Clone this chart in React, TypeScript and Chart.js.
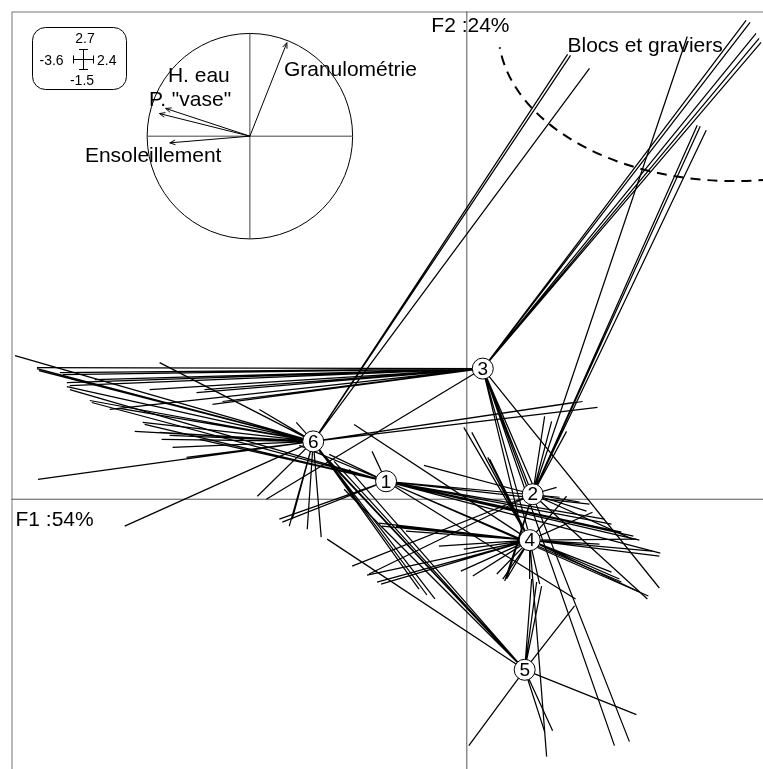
import React, { useEffect, useRef } from 'react';
import { Chart, registerables } from 'chart.js';

Chart.register(...registerables);

// ---- Data (F1 / F2 scores) ----
const GROUP_LABELS = ['1', '2', '3', '4', '5', '6'];
const CENTRE_X = [-0.81, 0.66, 0.16, 0.63, 0.58, -1.54];
const CENTRE_Y = [0.18, 0.05, 1.31, -0.41, -1.71, 0.58];

const ENDS_1: [number, number][] = [
  [-3.98, 1.10], [-3.76, 0.97], [-3.23, 0.75], [-2.68, 0.60], [-1.68, 0.54], [-1.38, 0.45],
  [-0.95, 0.48], [-1.88, -0.20], [-1.85, -0.23], [1.67, -0.37], [1.73, -0.41], [1.94, -0.54],
  [1.45, -0.25], [1.55, -0.33], [1.48, -0.80], [1.55, -0.83], [1.82, -0.97], [1.23, -0.05],
  [0.93, 0.02], [1.38, -0.20], [1.09, -1.00],
];
const ENDS_2: [number, number][] = [
  [2.31, 3.75], [2.34, 3.74], [2.40, 3.70], [2.21, 4.64], [0.78, 0.83], [0.85, 0.78],
  [1.00, 0.68], [-0.43, 0.34], [-0.28, 0.30], [0.90, 0.12], [1.13, -0.03], [1.20, -0.12],
  [1.66, -0.40], [1.81, -1.00], [0.38, -0.82], [0.40, -0.80], [-1.15, -0.67], [-0.98, -0.75],
];
const ENDS_3: [number, number][] = [
  [2.80, 4.80], [2.84, 4.78], [2.90, 4.67], [2.93, 4.62], [2.95, 4.58], [-4.31, 1.32],
  [-4.08, 1.27], [-4.05, 1.25], [-4.01, 1.17], [-3.98, 1.14], [-3.73, 1.20], [-3.18, 1.10],
  [-3.58, 0.90], [-2.71, 1.07], [-2.63, 1.10], [-2.55, 0.95], [-2.45, 0.98], [-2.01, 0.00],
  [1.48, -2.47], [1.63, -2.43], [1.93, -0.89], [0.60, 0.13], [0.68, 0.10], [0.61, -0.30],
  [0.56, -0.35],
];
const ENDS_4: [number, number][] = [
  [-0.03, 0.72], [0.05, 0.67], [0.21, 0.42], [0.23, 0.40], [-1.13, 0.75], [-0.28, -0.47],
  [-0.06, -0.72], [-0.03, -0.50], [0.06, -0.53], [0.06, -0.77], [0.30, -0.75], [0.36, -0.80],
  [0.41, -0.78], [-0.85, -0.27], [-0.71, -0.27], [-0.61, -0.32], [-1.00, -0.76], [-0.90, -0.83],
  [-0.86, -0.85], [-0.88, -0.24], [1.70, -0.40], [1.86, -0.52], [1.93, -0.57], [1.45, -0.73],
  [1.53, -0.80], [1.73, -0.93], [1.00, 0.03], [1.26, -0.13], [1.33, -0.45], [0.80, -2.58],
  [0.63, -0.80], [0.73, -0.85],
];
const ENDS_5: [number, number][] = [
  [0.65, -0.80], [0.70, -0.83], [0.75, -0.87], [1.08, -1.07], [1.70, -2.16], [0.02, -2.47],
  [0.86, -2.32], [0.78, -2.33], [-1.48, 0.48], [-1.43, 0.44], [-1.33, 0.38], [-1.18, 0.30],
  [-1.40, -0.40], [-1.23, 0.10],
];
const ENDS_6: [number, number][] = [
  [1.01, 4.46], [1.04, 4.45], [1.23, 4.32], [1.06, 0.97], [1.16, 0.98], [1.31, 0.92],
  [-4.53, 1.44], [-4.31, 1.31], [-4.29, 1.29], [-4.01, 1.13], [-3.78, 0.99], [-3.48, 0.91],
  [-3.25, 0.77], [-3.08, 1.37], [-3.33, 0.68], [-3.08, 0.67], [-3.06, 0.60], [-2.98, 0.64],
  [-2.95, 0.52], [-2.81, 0.42], [-2.08, 0.90], [-1.71, 0.77], [-4.30, 0.20], [-3.43, -0.27],
  [-2.10, 0.03], [-1.75, -0.20], [-1.78, -0.27], [-1.60, -0.30], [-1.46, -0.38], [-0.48, -0.90],
  [-0.40, -0.96], [-0.32, -1.00],
];
const GROUP_ENDS = [ENDS_1, ENDS_2, ENDS_3, ENDS_4, ENDS_5, ENDS_6];

// correlation circle (variables)
const VARIABLES = ['Granulométrie', 'H. eau', 'P. "vase"', 'Ensoleillement'];
const CORR_X = [0.36, -0.82, -0.88, -0.78];
const CORR_Y = [0.91, 0.27, 0.22, -0.065];

const AXIS_LABELS = ['F1 :54%', 'F2 :24%'];
const SCALE_BOX = ['2.7', '-3.6', '2.4', '-1.5'];
const ZONE_LABEL = 'Blocs et graviers';

const X_MIN = -4.565;
const X_MAX = 3.225;
const Y_MIN = -2.9;
const Y_MAX = 4.89;

const FONT = '"Liberation Sans", Arial, Helvetica, sans-serif';

function arrow(ctx: CanvasRenderingContext2D, x0: number, y0: number, x1: number, y1: number) {
  ctx.beginPath();
  ctx.moveTo(x0, y0);
  ctx.lineTo(x1, y1);
  ctx.stroke();
  const ang = Math.atan2(y1 - y0, x1 - x0);
  const len = 6;
  const spread = 0.4;
  ctx.beginPath();
  ctx.moveTo(x1 - len * Math.cos(ang - spread), y1 - len * Math.sin(ang - spread));
  ctx.lineTo(x1, y1);
  ctx.lineTo(x1 - len * Math.cos(ang + spread), y1 - len * Math.sin(ang + spread));
  ctx.stroke();
}

const decorPlugin = {
  id: 'decor',
  beforeDatasetsDraw(chart: any) {
    const ctx: CanvasRenderingContext2D = chart.ctx;
    const xs = chart.scales.x;
    const ys = chart.scales.y;
    const a = chart.chartArea;
    ctx.save();
    // frame
    ctx.strokeStyle = '#777';
    ctx.lineWidth = 1;
    ctx.strokeRect(a.left + 0.5, a.top + 0.5, a.right - a.left, a.bottom - a.top);
    // axes
    const ox = xs.getPixelForValue(0);
    const oy = ys.getPixelForValue(0);
    ctx.strokeStyle = '#555';
    ctx.beginPath();
    ctx.moveTo(ox, a.top);
    ctx.lineTo(ox, a.bottom);
    ctx.moveTo(a.left, oy);
    ctx.lineTo(a.right, oy);
    ctx.stroke();

    ctx.fillStyle = '#000';
    ctx.font = `21px ${FONT}`;
    ctx.textAlign = 'left';
    ctx.textBaseline = 'alphabetic';
    ctx.fillText(AXIS_LABELS[1], ox - 35.5, 31.5);
    ctx.fillText(AXIS_LABELS[0], a.left + 4, oy + 27);

    // zone: dashed arc
    const ecx = xs.getPixelForValue(2.675);
    const ecy = ys.getPixelForValue(4.7);
    const erx = xs.getPixelForValue(2.675 + 2.36) - ecx;
    const ery = ys.getPixelForValue(4.7 - 1.51) - ecy;
    ctx.strokeStyle = '#000';
    ctx.lineWidth = 2;
    ctx.setLineDash([10, 7]);
    ctx.beginPath();
    ctx.ellipse(ecx, ecy, erx, ery, 0, 1.35, 3.03);
    ctx.stroke();
    ctx.setLineDash([]);
    ctx.fillText(ZONE_LABEL, 567.5, 52);

    // correlation circle
    const cx = xs.getPixelForValue(-2.175);
    const cy = ys.getPixelForValue(3.64);
    const r = xs.getPixelForValue(-2.175 + 1.03) - cx;
    ctx.lineWidth = 1;
    ctx.strokeStyle = '#000';
    ctx.beginPath();
    ctx.arc(cx, cy, r, 0, Math.PI * 2);
    ctx.stroke();
    ctx.strokeStyle = '#444';
    ctx.beginPath();
    ctx.moveTo(cx - r, cy);
    ctx.lineTo(cx + r, cy);
    ctx.moveTo(cx, cy - r);
    ctx.lineTo(cx, cy + r);
    ctx.stroke();
    ctx.strokeStyle = '#000';
    for (let i = 0; i < VARIABLES.length; i++) {
      arrow(ctx, cx, cy, cx + CORR_X[i] * r, cy - CORR_Y[i] * r);
    }
    const labelOffsets = [
      [34, -60],
      [-82, -54],
      [-101, -30],
      [-165, 26],
    ];
    ctx.font = `21px ${FONT}`;
    for (let i = 0; i < VARIABLES.length; i++) {
      ctx.fillText(VARIABLES[i], cx + labelOffsets[i][0], cy + labelOffsets[i][1]);
    }

    // scale box
    const bx = 32.5, by = 27.5, bw = 94, bh = 62, br = 13;
    ctx.beginPath();
    ctx.moveTo(bx + br, by);
    ctx.lineTo(bx + bw - br, by);
    ctx.arcTo(bx + bw, by, bx + bw, by + br, br);
    ctx.lineTo(bx + bw, by + bh - br);
    ctx.arcTo(bx + bw, by + bh, bx + bw - br, by + bh, br);
    ctx.lineTo(bx + br, by + bh);
    ctx.arcTo(bx, by + bh, bx, by + bh - br, br);
    ctx.lineTo(bx, by + br);
    ctx.arcTo(bx, by, bx + br, by, br);
    ctx.closePath();
    ctx.stroke();
    ctx.font = `14px ${FONT}`;
    ctx.textAlign = 'center';
    ctx.fillText(SCALE_BOX[0], 85, 42.5);
    ctx.fillText(SCALE_BOX[3], 82, 85);
    ctx.textAlign = 'left';
    ctx.fillText(SCALE_BOX[1], 39.5, 64.5);
    ctx.fillText(SCALE_BOX[2], 97, 64.5);
    // cross
    ctx.beginPath();
    ctx.moveTo(73, 59.5); ctx.lineTo(94, 59.5);
    ctx.moveTo(73.5, 55.5); ctx.lineTo(73.5, 63.5);
    ctx.moveTo(93.5, 55.5); ctx.lineTo(93.5, 63.5);
    ctx.moveTo(83.5, 49); ctx.lineTo(83.5, 70);
    ctx.moveTo(79, 49.5); ctx.lineTo(88, 49.5);
    ctx.moveTo(79, 69.5); ctx.lineTo(88, 69.5);
    ctx.stroke();
    ctx.restore();
  },
  afterDatasetsDraw(chart: any) {
    const ctx: CanvasRenderingContext2D = chart.ctx;
    const xs = chart.scales.x;
    const ys = chart.scales.y;
    ctx.save();
    ctx.fillStyle = '#000';
    ctx.font = `19px ${FONT}`;
    ctx.textAlign = 'center';
    ctx.textBaseline = 'middle';
    for (let i = 0; i < GROUP_LABELS.length; i++) {
      ctx.fillText(GROUP_LABELS[i], xs.getPixelForValue(CENTRE_X[i]), ys.getPixelForValue(CENTRE_Y[i]) + 1);
    }
    ctx.restore();
  },
};

export default function App() {
  const ref = useRef<HTMLCanvasElement | null>(null);
  useEffect(() => {
    if (!ref.current) return;
    const lineSets = GROUP_ENDS.map((ends, g) => {
      const data: { x: number; y: number }[] = [];
      ends.forEach(([ex, ey]) => {
        data.push({ x: CENTRE_X[g], y: CENTRE_Y[g] });
        data.push({ x: ex, y: ey });
        data.push({ x: NaN, y: NaN });
      });
      return {
        label: 'classe ' + GROUP_LABELS[g],
        data,
        showLine: true,
        spanGaps: false,
        borderColor: '#000',
        borderWidth: 1.25,
        pointRadius: 0,
        pointHoverRadius: 0,
        order: 1,
      };
    });
    const centres = {
      label: 'centres',
      data: CENTRE_X.map((x, i) => ({ x, y: CENTRE_Y[i] })),
      showLine: false,
      pointRadius: 10.5,
      pointHoverRadius: 10.5,
      pointBackgroundColor: '#fff',
      pointBorderColor: '#000',
      pointBorderWidth: 1,
      order: 0,
    };
    const chart = new Chart(ref.current, {
      type: 'scatter',
      data: { datasets: [centres as any, ...lineSets] },
      options: {
        animation: false,
        responsive: false,
        maintainAspectRatio: false,
        events: [],
        layout: { padding: { left: 11, top: 11, right: 10, bottom: 10 } },
        plugins: { legend: { display: false }, tooltip: { enabled: false } },
        scales: {
          x: { type: 'linear', min: X_MIN, max: X_MAX, display: false },
          y: { type: 'linear', min: Y_MIN, max: Y_MAX, display: false },
        },
      },
      plugins: [decorPlugin],
    });
    return () => chart.destroy();
  }, []);
  return (
    <div
      style={{
        position: 'fixed',
        left: 0,
        top: 0,
        width: 763,
        height: 769,
        overflow: 'hidden',
        background: '#fff',
      }}
    >
      <canvas ref={ref} width={800} height={800} style={{ display: 'block', width: 800, height: 800 }} />
    </div>
  );
}
